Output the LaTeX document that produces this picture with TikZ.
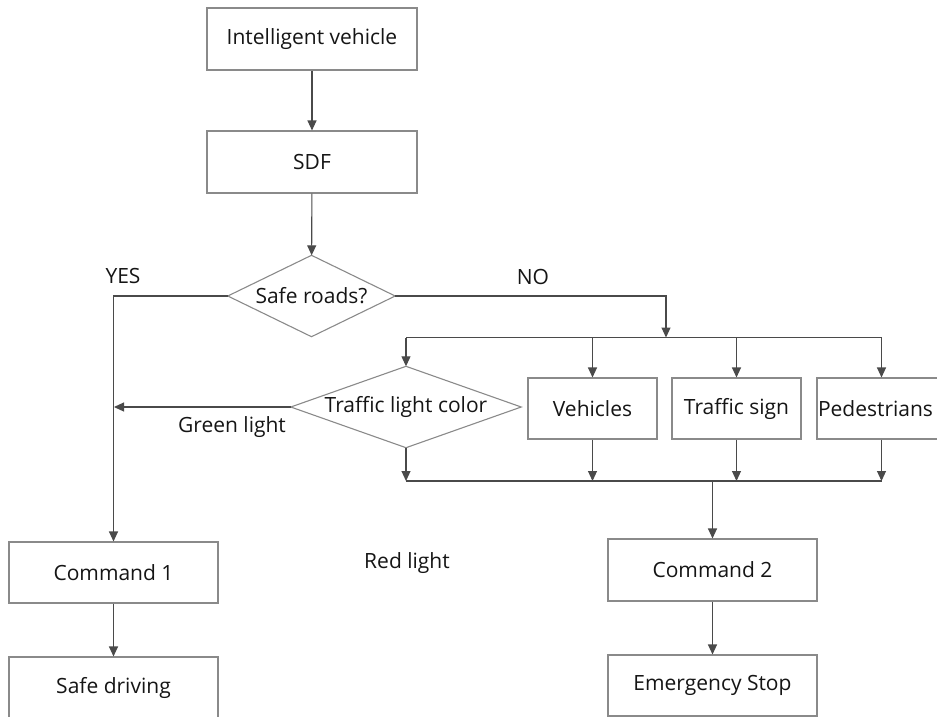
\documentclass[tikz,border=0pt]{standalone}
\usepackage{fontspec}
\setmainfont{Open Sans}
\usetikzlibrary{arrows.meta}

\definecolor{boxline}{HTML}{8A8A8A}
\definecolor{wire}{HTML}{4A4A4A}
\definecolor{ink}{HTML}{151515}

\tikzset{
  box/.style={draw=boxline, line width=1.1pt, fill=white, text=ink,
    minimum width=209pt, minimum height=61pt, inner sep=0pt,
    font=\fontsize{21}{24}\selectfont},
  smallbox/.style={box, minimum width=129pt},
  % decision: an invisible rectangle whose side midpoints are the diamond tips
  decision/.style={rectangle, text=ink, inner sep=0pt,
    font=\fontsize{21}{24}\selectfont},
  diamondline/.style={draw=boxline, line width=1.1pt, line join=miter},
  wireline/.style={draw=wire, line width=1.1pt},
  arr/.style={wireline, -{Triangle[length=10pt, width=9pt]}},
  lbl/.style={text=ink, font=\fontsize{21}{24}\selectfont, inner sep=0pt},
}

\begin{document}
\begin{tikzpicture}[x=1pt, y=-1pt]
  \useasboundingbox (0,0) rectangle (937,716);
  \clip (0,0) rectangle (937,716);

  % main column
  \node[box, minimum width=210pt, minimum height=62pt] (iv) at (312,39) {Intelligent vehicle};
  \node[box, minimum width=210pt, minimum height=62pt] (sdf) at (312,162) {SDF};
  \node[decision, minimum width=167pt, minimum height=81pt] (safe) at (311.5,296) {Safe roads?};
  \draw[diamondline] (safe.north) -- (safe.east) -- (safe.south) -- (safe.west) -- cycle;

  % hazard checks
  \node[decision, minimum width=230pt, minimum height=81pt] (tlc) at (406,407) {Traffic light color};
  \draw[diamondline] (tlc.north) -- (tlc.east) -- (tlc.south) -- (tlc.west) -- cycle;
  \node[smallbox] (veh) at (592.5,408.5) {Vehicles};
  \node[smallbox] (sign) at (736.5,408.5) {Traffic sign};
  \node[smallbox] (ped) at (881.5,408.5) {Pedestrians\hspace*{12pt}};

  % commands and outcomes
  \node[box] (cmd1) at (113.5,572.5) {Command 1};
  \node[box] (drive) at (113.5,687.5) {Safe driving};
  \node[box, minimum height=62pt] (cmd2) at (712.5,570) {Command 2};
  \node[box] (stop) at (712.5,685.5) {Emergency Stop};

  % branch helpers
  \coordinate (split) at (666,337.5);
  \coordinate (splitL) at (406,337.5);
  \coordinate (splitR) at (881.5,337.5);
  \coordinate (mergeL) at (406,481);
  \coordinate (mergeR) at (881.5,481);
  \coordinate (green) at (114,407);

  % labels
  \node[lbl] (yes) at (123,276) {YES};
  \node[lbl] (no) at (533,277) {NO};
  \node[lbl] (gl) at (232,427) {Green light};
  \node[lbl] (rl) at (407,563) {Red light};

  % connectors
  \draw[arr] (iv) -- (sdf);
  \draw[arr] (sdf) -- (safe);
  \draw[arr] (safe.west) -| (cmd1.north);
  \draw[arr] (safe.east) -| (split);
  \draw[wireline] (splitL) -- (splitR);
  \draw[arr] (splitL) -- (tlc.north);
  \draw[arr] (veh.north |- splitL) -- (veh.north);
  \draw[arr] (sign.north |- splitL) -- (sign.north);
  \draw[arr] (ped.north |- splitL) -- (ped.north);
  \draw[arr] (tlc.west) -- (green);
  \draw[arr] (tlc.south) -- (mergeL);
  \draw[arr] (veh.south) -- (veh.south |- mergeL);
  \draw[arr] (sign.south) -- (sign.south |- mergeL);
  \draw[arr] (ped.south) -- (ped.south |- mergeL);
  \draw[wireline] (mergeL) -- (mergeR);
  \draw[arr] (cmd2.north |- mergeL) -- (cmd2.north);
  \draw[arr] (cmd1) -- (drive);
  \draw[arr] (cmd2) -- (stop);
\end{tikzpicture}
\end{document}
